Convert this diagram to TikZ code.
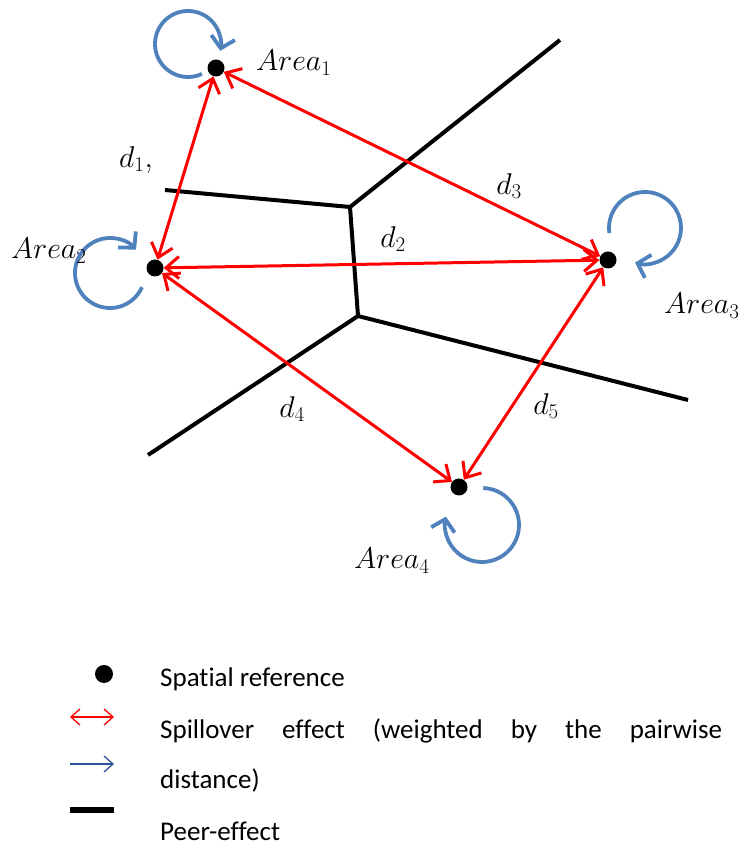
\RequirePackage{fix-cm}
\documentclass[tikz,border=0pt]{standalone}
\usepackage{fontspec}
\setmainfont[Ligatures={NoCommon}]{Carlito}
\usetikzlibrary{arrows.meta}
\definecolor{loopblue}{HTML}{4F81BD}
\definecolor{legblue}{HTML}{2E5597}
\begin{document}
\begin{tikzpicture}[x=1pt,y=1pt,
  dot/.style={circle,fill=black,inner sep=0pt,minimum size=17pt},
  spill/.style={red,line width=3pt,{Straight Barb[length=13pt,width=22pt]}-{Straight Barb[length=13pt,width=22pt]}},
  peer/.style={black,line width=4pt},
  selfloop/.style={loopblue,line width=3.8pt,-{Straight Barb[length=11pt,width=24pt]}},
  mlabel/.style={inner sep=0pt,font=\fontsize{30}{34}\selectfont},
  legtext/.style={inner sep=0pt,anchor=base west,font=\fontsize{27}{30}\selectfont}]
\useasboundingbox (0,0) rectangle (740,848);
% peer-effect boundaries
\coordinate (p1) at (165,658);
\coordinate (j1) at (350,641);
\coordinate (p2) at (560,808);
\coordinate (j2) at (358,532);
\coordinate (p3) at (688,448);
\coordinate (p4) at (148,393);
\draw[peer] (p1) -- (j1) -- (p2);
\draw[peer] (j1) -- (j2);
\draw[peer] (j2) -- (p3);
\draw[peer] (j2) -- (p4);
% spatial references
\node[dot] (a1) at (216,780) {};
\node[dot] (a2) at (155,580) {};
\node[dot] (a3) at (608,588) {};
\node[dot] (a4) at (459,361) {};
% spillovers
\draw[spill] (a1) -- (a2);
\draw[spill] (a1) -- (a3);
\draw[spill] (a2) -- (a3);
\draw[spill] (a2) -- (a4);
\draw[spill] (a3) -- (a4);
% self loops
\coordinate (c1) at (188,804);
\coordinate (c2) at (110,575);
\coordinate (c3) at (645,620);
\coordinate (c4) at (482,323);
\draw[selfloop] ([shift={(-65:33pt)}]c1) arc[start angle=-65,end angle=-372,radius=33pt];
\draw[selfloop] ([shift={(-24:35pt)}]c2) arc[start angle=-24,end angle=-318,radius=35pt];
\draw[selfloop] ([shift={(-172:36pt)}]c3) arc[start angle=-172,end angle=-466,radius=36pt];
\draw[selfloop] ([shift={(-272:37pt)}]c4) arc[start angle=-272,end angle=-553,radius=37pt];
% labels
\node[mlabel] (ld1) at (136,688) {$d_1,$};
\node[mlabel] (ld2) at (393,609) {$d_2$};
\node[mlabel] (ld3) at (509,662) {$d_3$};
\node[mlabel] (ld4) at (292,439) {$d_4$};
\node[mlabel] (ld5) at (546,442) {$d_5$};
\node[mlabel,anchor=base west] (la1) at (256,777) {$Area_1$};
\node[mlabel,anchor=base west] (la2) at (11,589) {$Area_2$};
\node[mlabel,anchor=base west] (la3) at (664,534) {$Area_3$};
\node[mlabel,anchor=base west] (la4) at (354,279) {$Area_4$};
% legend
\node[dot,minimum size=18pt] (ldot) at (104,174) {};
\coordinate (r1) at (70,131);
\coordinate (r2) at (114,131);
\draw[red,line width=1.3pt,{Straight Barb[length=9pt,width=16pt]}-{Straight Barb[length=9pt,width=16pt]}] (r1) -- (r2);
\coordinate (b1) at (70,84);
\coordinate (b2) at (114,84);
\draw[legblue,line width=1.3pt,-{Straight Barb[length=9pt,width=16pt]}] (b1) -- (b2);
\coordinate (k1) at (70,38);
\coordinate (k2) at (114,38);
\draw[black,line width=6pt] (k1) -- (k2);
\node[legtext] (t1) at (160,161) {Spatial reference};
\node[legtext] (t2) at (160,109) {\makebox[562pt][s]{Spillover effect (weighted by the pairwise}};
\node[legtext] (t3) at (160,59) {distance)};
\node[legtext] (t4) at (160,8) {Peer-effect};
\end{tikzpicture}
\end{document}
